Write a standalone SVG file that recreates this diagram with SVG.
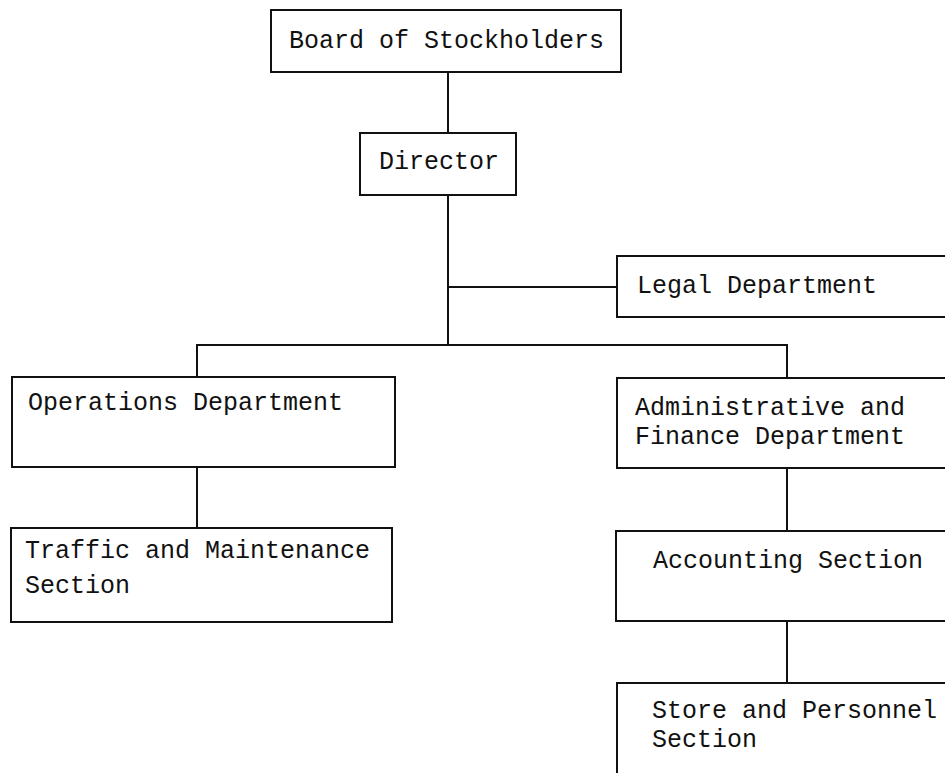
<svg xmlns="http://www.w3.org/2000/svg" width="945" height="773" viewBox="0 0 945 773">
<style>
.box{fill:#fff;stroke:#111;stroke-width:2}
.c{fill:none;stroke:#111;stroke-width:2}
text{font-family:"Liberation Mono","Courier New",monospace;font-size:25px;fill:#111}
</style>
<rect width="945" height="773" fill="#fff"/>
<g id="connectors">
<path class="c" d="M448,72V133"/>
<path class="c" d="M448,195V345"/>
<path class="c" d="M448,287H617"/>
<path class="c" d="M197,377V345H787V378"/>
<path class="c" d="M197,467V528"/>
<path class="c" d="M787,468V531"/>
<path class="c" d="M787,621V683"/>
</g>
<g id="board"><rect class="box" x="271" y="10" width="350" height="62"/><text x="289" y="48">Board of Stockholders</text></g>
<g id="director"><rect class="box" x="360" y="133" width="156" height="62"/><text x="379" y="169">Director</text></g>
<g id="legal"><rect class="box" x="617" y="256" width="340" height="61"/><text x="637" y="293">Legal Department</text></g>
<g id="operations"><rect class="box" x="12" y="377" width="383" height="90"/><text x="28" y="410">Operations Department</text></g>
<g id="admin"><rect class="box" x="617" y="378" width="340" height="90"/><text x="635" y="415">Administrative and</text><text x="635" y="444">Finance Department</text></g>
<g id="traffic"><rect class="box" x="11" y="528" width="381" height="94"/><text x="25" y="558">Traffic and Maintenance</text><text x="25" y="593">Section</text></g>
<g id="accounting"><rect class="box" x="616" y="531" width="340" height="90"/><text x="653" y="568">Accounting Section</text></g>
<g id="store"><rect class="box" x="617" y="683" width="340" height="120"/><text x="652" y="718">Store and Personnel</text><text x="652" y="747">Section</text></g>
</svg>
